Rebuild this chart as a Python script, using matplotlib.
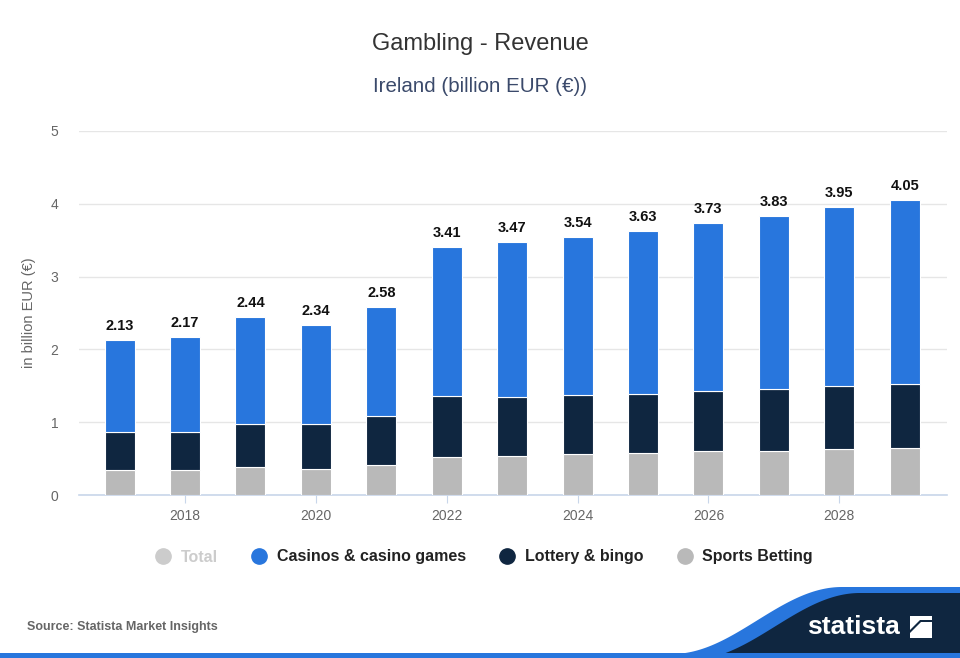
import numpy as np
import matplotlib
matplotlib.use('Agg')
import matplotlib.pyplot as plt
from matplotlib.lines import Line2D
from matplotlib.patches import Polygon, Rectangle

plt.rcParams['font.family'] = ['Liberation Sans', 'DejaVu Sans']

years = [2017, 2018, 2019, 2020, 2021, 2022, 2023, 2024, 2025, 2026, 2027, 2028, 2029]
totals = [2.13, 2.17, 2.44, 2.34, 2.58, 3.41, 3.47, 3.54, 3.63, 3.73, 3.83, 3.95, 4.05]
sports = [0.34, 0.35, 0.38, 0.36, 0.41, 0.52, 0.54, 0.56, 0.58, 0.60, 0.61, 0.63, 0.65]
lottery = [0.53, 0.52, 0.60, 0.62, 0.68, 0.84, 0.80, 0.81, 0.81, 0.83, 0.85, 0.87, 0.88]
casinos = [t - s - l for t, s, l in zip(totals, sports, lottery)]
x_ticks = [2018, 2020, 2022, 2024, 2026, 2028]
legend_names = ['Total', 'Casinos & casino games', 'Lottery & bingo', 'Sports Betting']

c_casino = '#2876dd'
c_lottery = '#0f2640'
c_sports = '#b9b9b9'
c_total = '#cccccc'

fig = plt.figure(figsize=(9.6, 6.58), dpi=100)
ax = fig.add_axes([0.0823, 0.2477, 0.9037, 0.5533])

x = np.array(years)
w = 0.46
ax.bar(x, sports, w, color=c_sports, edgecolor='white', linewidth=0.8, zorder=3)
ax.bar(x, lottery, w, bottom=sports, color=c_lottery, edgecolor='white', linewidth=0.8, zorder=3)
bot = np.array(sports) + np.array(lottery)
ax.bar(x, casinos, w, bottom=bot, color=c_casino, edgecolor='white', linewidth=0.8, zorder=3)

for xi, t in zip(x, totals):
    ax.annotate('%.2f' % t, (xi, t), xytext=(0, 5), textcoords='offset points',
                ha='center', va='bottom', fontsize=10.5, fontweight='bold', color='#111111')

ax.set_xlim(2017 - 0.62, 2029 + 0.64)
ax.set_ylim(0, 5)
ax.set_yticks([0, 1, 2, 3, 4, 5])
ax.set_xticks(x_ticks)
ax.grid(axis='y', color='#e6e6e6', linewidth=1, zorder=0)
for s in ['top', 'right', 'left']:
    ax.spines[s].set_visible(False)
ax.spines['bottom'].set_color('#c8d6ea')
ax.spines['bottom'].set_linewidth(1.2)
ax.tick_params(axis='y', length=0, pad=15, labelsize=10, labelcolor='#666666')
ax.tick_params(axis='x', length=6, color='#c8d6ea', pad=4, labelsize=10, labelcolor='#666666')
ax.set_ylabel('in billion EUR (€)', fontsize=10.5, color='#666666', labelpad=10)

fig.text(0.5, 1 - 44 / 658, 'Gambling - Revenue', ha='center', va='center', fontsize=17, color='#333333')
fig.text(0.5, 1 - 86 / 658, 'Ireland (billion EUR (€))', ha='center', va='center', fontsize=14.8, color='#3b4a6b')

handles = [Line2D([], [], marker='o', linestyle='', markersize=11, color=c) for c in
           [c_total, c_casino, c_lottery, c_sports]]
leg = fig.legend(handles, legend_names, loc='center', bbox_to_anchor=(0.5, 1 - 557 / 658), ncol=4,
                 frameon=False, handletextpad=0.1, columnspacing=1.6,
                 prop={'size': 11.5, 'weight': 'bold'})
for i, txt in enumerate(leg.get_texts()):
    txt.set_color(c_total if i == 0 else '#222222')

fig.text(27 / 960, 1 - 627 / 658, 'Source: Statista Market Insights', ha='left', va='center',
         fontsize=9, fontweight='bold', color='#666666')

# footer decoration in pixel coordinates
deco = fig.add_axes([0, 0, 1, 1], zorder=-1)
deco.set_xlim(0, 960)
deco.set_ylim(658, 0)
deco.axis('off')
xs = np.linspace(690, 860, 80)
ys = 593 + (660 - 593) * (1 + np.cos(np.pi * (xs - 690) / 170)) / 2
blue_pts = [(670, 660)] + list(zip(xs - 18, ys - 6)) + [(960, 587), (960, 660)]
deco.add_patch(Polygon(blue_pts, closed=True, color=c_casino, lw=0))
navy_pts = [(690, 660)] + list(zip(xs, ys)) + [(960, 593), (960, 660)]
deco.add_patch(Polygon(navy_pts, closed=True, color=c_lottery, lw=0))
deco.add_patch(Rectangle((0, 653), 960, 6, color=c_casino, lw=0))
deco.text(853, 627, 'statista', ha='center', va='center', fontsize=19, fontweight='bold', color='white')
deco.add_patch(Rectangle((910, 616), 22, 22, color='white', lw=0))
deco.add_patch(Polygon([(910, 633), (921, 622), (932, 622), (932, 620), (920, 620), (910, 630)],
                       closed=True, color=c_lottery, lw=0))

fig.savefig('out.png', dpi=100)
